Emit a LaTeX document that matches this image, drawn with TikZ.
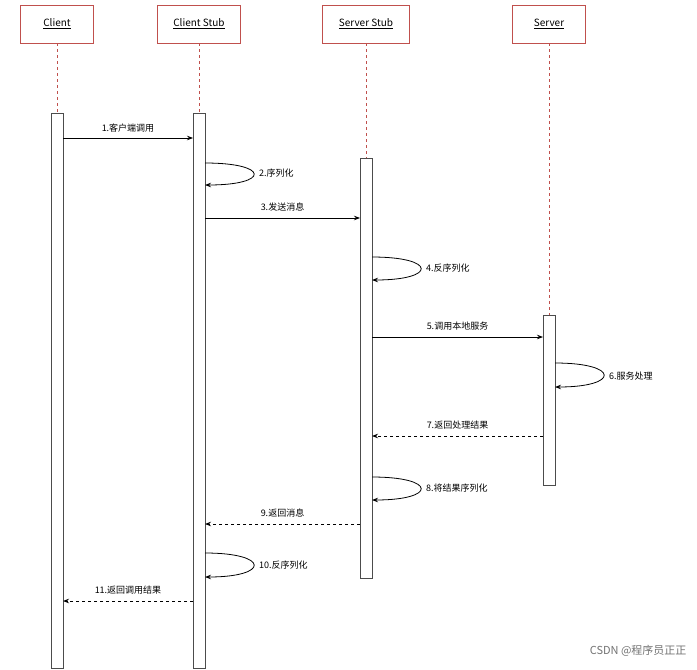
\documentclass[tikz,border=0pt]{standalone}
\usepackage{fontspec}
\setmainfont{Noto Sans CJK SC}
\usetikzlibrary{arrows.meta}
\definecolor{hred}{HTML}{C0504D}
\tikzset{
 head/.style={draw=hred,line width=0.9pt,fill=white,minimum height=38pt,inner sep=0pt,font=\fontsize{10}{12}\selectfont},
 life/.style={draw=hred,dashed,line width=0.7pt},
 act/.style={draw=black!70,line width=0.8pt,fill=white},
 msg/.style={-{Stealth[length=6pt]},line width=0.8pt},
 ret/.style={msg,dashed},
 lbl/.style={font=\fontsize{9}{11}\selectfont,inner sep=1pt}
}
\begin{document}
\begin{tikzpicture}[x=1pt,y=-1pt]
\useasboundingbox (0,0) rectangle (697,670);
\fill[white] (0,0) rectangle (697,670);
\node[head,minimum width=73pt] (h1) at (57,24) {\underline{Client}};
\node[head,minimum width=83pt] (h2) at (199,24) {\underline{Client Stub}};
\node[head,minimum width=87pt] (h3) at (366,24) {\underline{Server Stub}};
\node[head,minimum width=73pt] (h4) at (549,24) {\underline{Server}};
\coordinate (a1t) at (57,113); \coordinate (a2t) at (199,113);
\coordinate (a3t) at (366,158); \coordinate (a4t) at (549,315);
\draw[life] (h1.south) -- (a1t); \draw[life] (h2.south) -- (a2t);
\draw[life] (h3.south) -- (a3t); \draw[life] (h4.south) -- (a4t);
\draw[act] (51,113) rectangle (63,668);
\draw[act] (193,113) rectangle (205,668);
\draw[act] (360,158) rectangle (372,578);
\draw[act] (543,315) rectangle (555,485);
% messages
\coordinate (m1s) at (63,138); \coordinate (m1e) at (193,138);
\draw[msg] (m1s) -- (m1e) node[lbl,midway,above=4pt] {1.客户端调用};
\coordinate (s2a) at (205,163); \coordinate (s2b) at (205,185);
\draw[msg] (s2a) .. controls (270,163) and (270,185) .. (s2b);
\node[lbl,anchor=west] (l2) at (258,173) {2.序列化};
\coordinate (m3s) at (205,218); \coordinate (m3e) at (360,218);
\draw[msg] (m3s) -- (m3e) node[lbl,pos=0.5,above=5pt] {3.发送消息};
\coordinate (s4a) at (372,257); \coordinate (s4b) at (372,280);
\draw[msg] (s4a) .. controls (437,257) and (437,280) .. (s4b);
\node[lbl,anchor=west] (l4) at (425,268) {4.反序列化};
\coordinate (m5s) at (372,337); \coordinate (m5e) at (543,337);
\draw[msg] (m5s) -- (m5e) node[lbl,midway,above=5pt] {5.调用本地服务};
\coordinate (s6a) at (555,363); \coordinate (s6b) at (555,387);
\draw[msg] (s6a) .. controls (620,363) and (620,387) .. (s6b);
\node[lbl,anchor=west] (l6) at (608,376) {6.服务处理};
\coordinate (m7s) at (543,436); \coordinate (m7e) at (372,436);
\draw[ret] (m7s) -- (m7e) node[lbl,midway,above=5pt] {7.返回处理结果};
\coordinate (s8a) at (372,477); \coordinate (s8b) at (372,500);
\draw[msg] (s8a) .. controls (437,477) and (437,500) .. (s8b);
\node[lbl,anchor=west] (l8) at (425,488) {8.将结果序列化};
\coordinate (m9s) at (360,524); \coordinate (m9e) at (205,524);
\draw[ret] (m9s) -- (m9e) node[lbl,midway,above=5pt] {9.返回消息};
\coordinate (s10a) at (205,553); \coordinate (s10b) at (205,577);
\draw[msg] (s10a) .. controls (270,553) and (270,577) .. (s10b);
\node[lbl,anchor=west] (l10) at (258,565) {10.反序列化};
\coordinate (m11s) at (193,601); \coordinate (m11e) at (63,601);
\draw[ret] (m11s) -- (m11e) node[lbl,midway,above=5pt] {11.返回调用结果};
\node[font=\fontsize{11}{13}\selectfont,text=black!55,anchor=east] (wm) at (690,651) {CSDN @程序员正正};
\end{tikzpicture}
\end{document}
